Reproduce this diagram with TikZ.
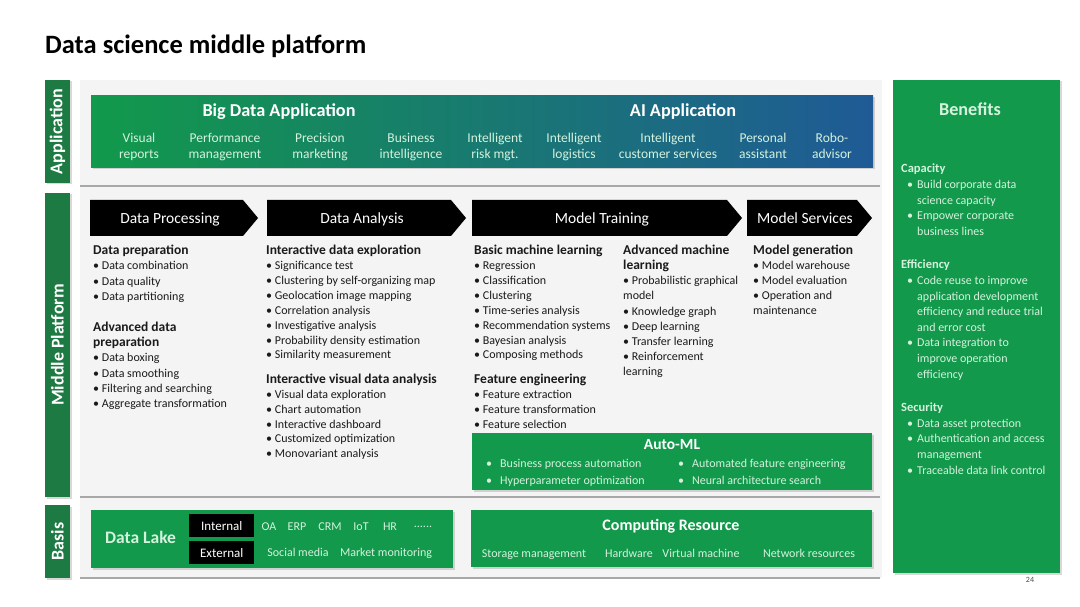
\documentclass[tikz,border=0pt]{standalone}
\usepackage{fontspec}
\setmainfont{Carlito}
\usetikzlibrary{shadows}
\definecolor{lblgreen}{HTML}{1D7A42}
\definecolor{boxgreen}{HTML}{12994B}
\definecolor{appblue}{HTML}{1F5A96}
\definecolor{ltxt}{HTML}{D5F2DD}
\definecolor{bodytxt}{HTML}{1A1A1A}
\definecolor{panel}{HTML}{F4F4F4}
\definecolor{sepgray}{HTML}{A8A8A8}
\newcommand{\hdr}[1]{{\fontsize{13.5}{15}\selectfont\bfseries #1}}
\newcommand{\bhdr}[1]{{\fontsize{12.5}{15.6}\selectfont\bfseries #1}}
\newcommand{\bl}[1]{\makebox[16pt][l]{\hspace{6pt}•}#1}
\newcommand{\bi}[1]{\hspace{16pt}#1}
\newcommand{\ab}[1]{\makebox[14pt][l]{•}#1}
\begin{document}
\begin{tikzpicture}[x=1pt,y=-1pt,
  lbl/.style={fill=lblgreen, text=white, font=\bfseries\fontsize{18}{20}\selectfont, rotate=90, inner sep=0, minimum height=25, drop shadow={opacity=0.3, shadow xshift=1.5pt, shadow yshift=-1.5pt}},
  gbox/.style={fill=boxgreen, anchor=north west, inner sep=0, outer sep=0, drop shadow={opacity=0.3, shadow xshift=1.5pt, shadow yshift=-1.5pt}},
  blackbox/.style={fill=black, anchor=north west, inner sep=0, text=white, font=\fontsize{13}{15}\selectfont},
  chev/.style={fill=black},
  arrtxt/.style={text=white, font=\fontsize{15.5}{18}\selectfont, inner sep=0, anchor=base},
  btitle/.style={text=white, font=\bfseries\fontsize{18.2}{20}\selectfont, inner sep=0, anchor=base},
  appitem/.style={text=ltxt, font=\fontsize{13.5}{16}\selectfont, align=center, inner sep=0},
  col/.style={anchor=north west, inner sep=0, align=left, text=bodytxt, font=\fontsize{12}{14.9}\selectfont},
  smalltxt/.style={text=ltxt, font=\fontsize{12}{15}\selectfont, inner sep=0, anchor=base},
  sepline/.style={draw=sepgray, line width=1.5pt}
]
\useasboundingbox (0,0) rectangle (1080,607);
\fill[white] (0,0) rectangle (1080,607);
% title
\node[anchor=base west, inner sep=0, font=\bfseries\fontsize{26.5}{30}\selectfont, text=black] (title) at (45,54) {Data science middle platform};
% panel
\fill[panel] (80,80) rectangle (882,578);
\coordinate (s1a) at (80,186); \coordinate (s1b) at (880,186);
\coordinate (s2a) at (80,497); \coordinate (s2b) at (880,497);
\coordinate (s3a) at (80,578); \coordinate (s3b) at (880,578);
\draw[sepline] (s1a) -- (s1b);
\draw[sepline] (s2a) -- (s2b);
\draw[sepline] (s3a) -- (s3b);
% side labels
\node[lbl, minimum width=103] (lapp) at (57.5,131.5) {Application};
\node[lbl, minimum width=304] (lmid) at (57.5,345) {Middle Platform};
\node[lbl, minimum width=73] (lbas) at (57.5,541.5) {Basis};
% application box
\node[anchor=north west, inner sep=0, minimum width=782, minimum height=72, left color=boxgreen, right color=appblue, drop shadow={opacity=0.3, shadow xshift=1.5pt, shadow yshift=-1.5pt}] (appbox) at (91,95) {};
\node[btitle] (bda) at (279,117) {Big Data Application};
\node[btitle] (aia) at (683,117) {AI Application};
\node[appitem] (a1) at (139,147) {Visual\\reports};
\node[appitem] (a2) at (225,147) {Performance\\management};
\node[appitem] (a3) at (320,147) {Precision\\marketing};
\node[appitem] (a4) at (411,147) {Business\\intelligence};
\node[appitem] (a5) at (495,147) {Intelligent\\risk mgt.};
\node[appitem] (a6) at (574,147) {Intelligent\\logistics};
\node[appitem] (a7) at (668,146) {Intelligent\\customer services};
\node[appitem] (a8) at (763,146) {Personal\\assistant};
\node[appitem] (a9) at (832,146) {Robo-\\advisor};
% chevrons
\fill[chev] (90,200) -- (243,200) -- (258,218) -- (243,236) -- (90,236) -- cycle;
\fill[chev] (267,200) -- (451,200) -- (466,218) -- (451,236) -- (267,236) -- cycle;
\fill[chev] (472,200) -- (727,200) -- (742,218) -- (727,236) -- (472,236) -- cycle;
\fill[chev] (747,200) -- (857,200) -- (872,218) -- (857,236) -- (747,236) -- cycle;
\node[arrtxt] (tproc) at (170,223.5) {Data Processing};
\node[arrtxt] (tana) at (362,223.5) {Data Analysis};
\node[arrtxt] (ttrain) at (602,223.5) {Model Training};
\node[arrtxt] (tserv) at (805,223.5) {Model Services};
% columns
\node[col, font=\fontsize{12}{15.3}\selectfont] (c1) at (93,245) {\hdr{Data preparation}\\
• Data combination\\
• Data quality\\
• Data partitioning\\[15.3pt]
\hdr{Advanced data}\\
\hdr{preparation}\\
• Data boxing\\
• Data smoothing\\
• Filtering and searching\\
• Aggregate transformation};
\node[col] (c2) at (266,245) {\hdr{Interactive data exploration}\\
• Significance test\\
• Clustering by self-organizing map\\
• Geolocation image mapping\\
• Correlation analysis\\
• Investigative analysis\\
• Probability density estimation\\
• Similarity measurement\\[9.5pt]
\hdr{Interactive visual data analysis}\\
• Visual data exploration\\
• Chart automation\\
• Interactive dashboard\\
• Customized optimization\\
• Monovariant analysis};
\node[col] (c3) at (474,245) {\hdr{Basic machine learning}\\
• Regression\\
• Classification\\
• Clustering\\
• Time-series analysis\\
• Recommendation systems\\
• Bayesian analysis\\
• Composing methods\\[9.5pt]
\hdr{Feature engineering}\\
• Feature extraction\\
• Feature transformation\\
• Feature selection};
\node[col, font=\fontsize{12}{15.1}\selectfont] (c4) at (623,245) {\hdr{Advanced machine}\\
\hdr{learning}\\
• Probabilistic graphical\\
model\\
• Knowledge graph\\
• Deep learning\\
• Transfer learning\\
• Reinforcement\\
learning};
\node[col] (c5) at (753,245) {\hdr{Model generation}\\
• Model warehouse\\
• Model evaluation\\
• Operation and\\
maintenance};
% Auto-ML
\node[gbox, minimum width=400, minimum height=57] (automl) at (472,433) {};
\node[text=white, font=\bfseries\fontsize{15.5}{18}\selectfont, inner sep=0, anchor=base] (automlt) at (672,449.5) {Auto-ML};
\node[smalltxt, anchor=north west, align=left, font=\fontsize{12}{17}\selectfont] (aml1) at (486,459) {\ab{Business process automation}\\\ab{Hyperparameter optimization}};
\node[smalltxt, anchor=north west, align=left, font=\fontsize{12}{17}\selectfont] (aml2) at (678,459) {\ab{Automated feature engineering}\\\ab{Neural architecture search}};
% Data lake
\node[gbox, minimum width=362, minimum height=58] (lake) at (91,510) {};
\node[anchor=base west, text=ltxt, font=\bfseries\fontsize{17.5}{20}\selectfont, inner sep=0] (laket) at (105,543) {Data Lake};
\node[blackbox, minimum width=65, minimum height=23] (intl) at (189,514) {Internal};
\node[blackbox, minimum width=65, minimum height=23] (extl) at (189,541) {External};
\node[smalltxt] (oa) at (269,530) {OA};
\node[smalltxt] (erp) at (297,530) {ERP};
\node[smalltxt] (crm) at (330,530) {CRM};
\node[smalltxt] (iot) at (361,530) {IoT};
\node[smalltxt] (hr) at (390,530) {HR};
\node[smalltxt] (dots) at (423,527) {......};
\node[smalltxt] (soc) at (298,556) {Social media};
\node[smalltxt] (mkt) at (386,556) {Market monitoring};
% Computing resource
\node[gbox, minimum width=401, minimum height=57] (comp) at (471,510) {};
\node[text=white, font=\bfseries\fontsize{16}{19}\selectfont, inner sep=0, anchor=base] (compt) at (671,530.5) {Computing Resource};
\node[smalltxt] (cr1) at (534,557) {Storage management};
\node[smalltxt] (cr2) at (629,557) {Hardware};
\node[smalltxt] (cr3) at (701,557) {Virtual machine};
\node[smalltxt] (cr4) at (809,557) {Network resources};
% Benefits
\node[gbox, minimum width=167, minimum height=493] (ben) at (893,80) {};
\node[btitle, text=ltxt] (bent) at (970,116) {Benefits};
\node[anchor=north west, inner sep=0, align=left, text=ltxt, font=\fontsize{12}{15.6}\selectfont] (bentxt) at (901,164) {\bhdr{Capacity}\\
\bl{Build corporate data}\\
\bi{science capacity}\\
\bl{Empower corporate}\\
\bi{business lines}\\[18pt]
\bhdr{Efficiency}\\
\bl{Code reuse to improve}\\
\bi{application development}\\
\bi{efficiency and reduce trial}\\
\bi{and error cost}\\
\bl{Data integration to}\\
\bi{improve operation}\\
\bi{efficiency}\\[18pt]
\bhdr{Security}\\
\bl{Data asset protection}\\
\bl{Authentication and access}\\
\bi{management}\\
\bl{Traceable data link control}};
\node[inner sep=0, font=\fontsize{8}{9}\selectfont, text=black!70] (pg) at (1030,580) {24};
\end{tikzpicture}
\end{document}
